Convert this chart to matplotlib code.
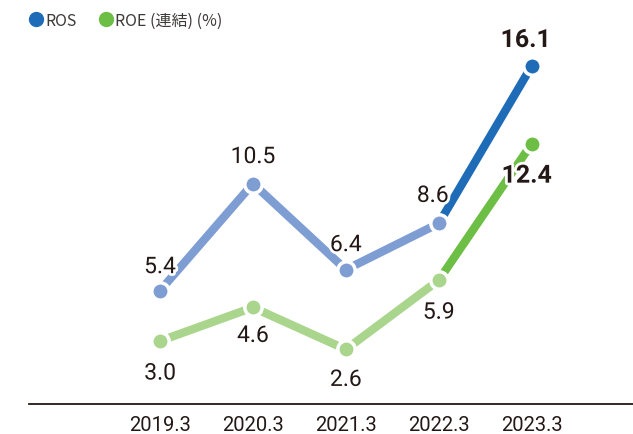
import matplotlib.pyplot as plt
import matplotlib.patheffects as pe
from matplotlib.lines import Line2D

years = ["2019.3", "2020.3", "2021.3", "2022.3", "2023.3"]
ros = [5.4, 10.5, 6.4, 8.6, 16.1]
roe = [3.0, 4.6, 2.6, 5.9, 12.4]

ros_light = "#7e9dd2"
ros_dark = "#1e6cb8"
roe_light = "#a9d58d"
roe_dark = "#6cbe45"
txt = "#231815"

# label offsets in pixels (dx, dy)
ros_off = [(0, 24), (0, 27), (0, 25), (-6, 28), (-6, 26)]
roe_off = [(0, -32), (0, -28), (0, -30), (0, -32), (-5, -32)]

plt.rcParams["font.family"] = ["Roboto", "DejaVu Sans"]

fig = plt.figure(figsize=(6.33, 4.35), dpi=100)
ax = fig.add_axes([29 / 633, 30 / 435, 604 / 633, 405 / 435])
x = list(range(len(years)))

lw = 6
ms = 12.5
for vals, light, dark in [(roe, roe_light, roe_dark), (ros, ros_light, ros_dark)]:
    ax.plot(x[:-1], vals[:-1], color=light, lw=lw, solid_capstyle="butt", zorder=2)
    ax.plot(x[-2:], vals[-2:], color=dark, lw=lw, solid_capstyle="butt", zorder=2)
    ax.plot(x[:-1], vals[:-1], "o", color=light, ms=ms, mec="white", mew=2.5, zorder=3)
    ax.plot(x[-1:], vals[-1:], "o", color=dark, ms=ms, mec="white", mew=2.5, zorder=3)

stroke = [pe.withStroke(linewidth=4, foreground="white")]
for vals, offs in [(ros, ros_off), (roe, roe_off)]:
    for i, v in enumerate(vals):
        last = i == len(vals) - 1
        ax.annotate(f"{v:.1f}", (x[i], v), xytext=offs[i], textcoords="offset pixels",
                    ha="center", va="center", fontsize=18 if last else 16.5,
                    fontweight="bold" if last else "normal", color=txt,
                    path_effects=stroke, zorder=4)

ax.set_xlim(-1.41, 5.09)
ax.set_ylim(0, 19.29)
ax.set_xticks(x)
ax.set_xticklabels(years, fontsize=14.5, color=txt)
ax.tick_params(axis="x", length=0, pad=8)
ax.set_yticks([])
for s in ["top", "right", "left"]:
    ax.spines[s].set_visible(False)
ax.spines["bottom"].set_color("#231815")
ax.spines["bottom"].set_linewidth(1.3)

# legend
fig.add_artist(Line2D([36 / 633], [1 - 20 / 435], marker="o", color=ros_dark, ms=10,
                      transform=fig.transFigure, lw=0))
fig.text(45 / 633, 1 - 21 / 435, "ROS", fontsize=11.5, color="#3e3a39", va="center",
         family=["Noto Sans CJK JP"])
fig.add_artist(Line2D([106 / 633], [1 - 20 / 435], marker="o", color=roe_dark, ms=10,
                      transform=fig.transFigure, lw=0))
fig.text(115 / 633, 1 - 21 / 435, "ROE (連結) (%)", fontsize=11.5, color="#3e3a39",
         va="center", family=["Noto Sans CJK JP"])

fig.savefig("out.png", dpi=100)
